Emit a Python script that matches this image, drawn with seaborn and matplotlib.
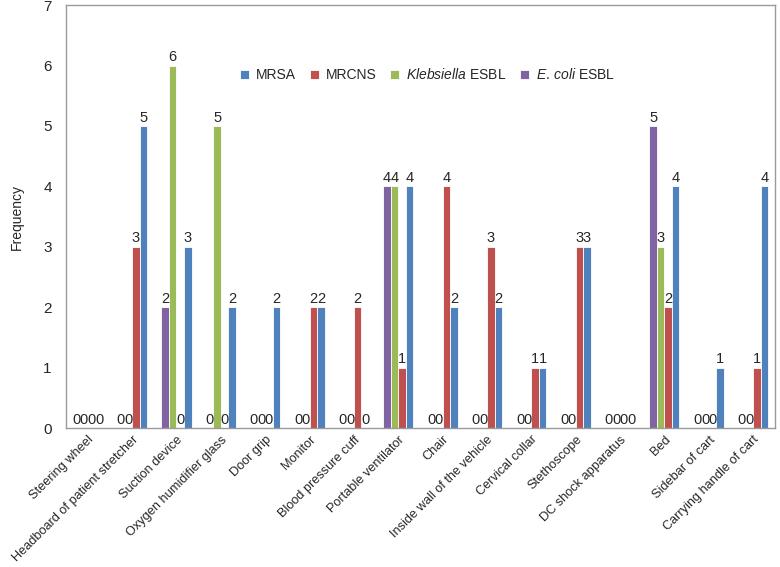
import matplotlib
matplotlib.use('Agg')
import matplotlib.pyplot as plt
import pandas as pd
import seaborn as sns

SITES = ['Steering wheel', 'Headboard of patient stretcher', 'Suction device',
         'Oxygen humidifier glass', 'Door grip', 'Monitor', 'Blood pressure cuff',
         'Portable ventilator', 'Chair', 'Inside wall of the vehicle', 'Cervical collar',
         'Stethoscope', 'DC shock apparatus', 'Bed', 'Sidebar of cart',
         'Carrying handle of cart']

MRSA = [0, 5, 3, 2, 2, 2, 0, 4, 2, 2, 1, 3, 0, 4, 1, 4]
MRCNS = [0, 3, 0, 0, 0, 2, 2, 1, 4, 3, 1, 3, 0, 2, 0, 1]
KLEBSIELLA = [0, 0, 6, 5, 0, 0, 0, 4, 0, 0, 0, 0, 0, 3, 0, 0]
ECOLI = [0, 0, 2, 0, 0, 0, 0, 4, 0, 0, 0, 0, 0, 5, 0, 0]

SERIES = {'MRSA': MRSA, 'MRCNS': MRCNS, 'Klebsiella ESBL': KLEBSIELLA, 'E. coli ESBL': ECOLI}
COLORS = {'MRSA': '#4F81BD', 'MRCNS': '#C0504D', 'Klebsiella ESBL': '#9BBB59',
          'E. coli ESBL': '#8064A2'}
LEGEND_LABELS = {'MRSA': 'MRSA', 'MRCNS': 'MRCNS',
                 'Klebsiella ESBL': r'$\mathit{Klebsiella}$ ESBL',
                 'E. coli ESBL': r'$\mathit{E.\,coli}$ ESBL'}

# bars inside a group run opposite to the legend order
DRAW_ORDER = ['E. coli ESBL', 'Klebsiella ESBL', 'MRCNS', 'MRSA']
LEGEND_ORDER = ['MRSA', 'MRCNS', 'Klebsiella ESBL', 'E. coli ESBL']

rows = []
for name, vals in SERIES.items():
    for site, v in zip(SITES, vals):
        rows.append({'site': site, 'organism': name, 'count': v})
df = pd.DataFrame(rows)

sns.set_style('white')
plt.rcParams['font.family'] = ['Liberation Sans', 'DejaVu Sans']
plt.rcParams['mathtext.fontset'] = 'custom'
plt.rcParams['mathtext.rm'] = 'Liberation Sans'
plt.rcParams['mathtext.it'] = 'Liberation Sans:italic'

fig = plt.figure(figsize=(7.8, 5.67), dpi=100)
ax = fig.add_axes([0.084, 0.245, 0.91, 0.746])

sns.barplot(data=df, x='site', y='count', hue='organism', order=SITES,
            hue_order=DRAW_ORDER, palette=COLORS, width=0.68, ax=ax,
            saturation=1, edgecolor='white', linewidth=0.6)

for cont in ax.containers:
    ax.bar_label(cont, fmt='%d', fontsize=10.5, padding=1)

ax.set_ylim(0, 7)
ax.set_yticks(range(0, 8))
ax.set_xlim(-0.5, len(SITES) - 0.5)
ax.set_xlabel('')
ax.set_ylabel('Frequency', fontsize=10, labelpad=14)
ax.tick_params(axis='y', labelsize=11, length=0, pad=10)
ax.tick_params(axis='x', labelsize=9.2, length=0, pad=4)
plt.setp(ax.get_xticklabels(), rotation=45, ha='right', rotation_mode='anchor')

for sp in ax.spines.values():
    sp.set_color('#9a9a9a')
    sp.set_linewidth(1.0)

handles, labels = ax.get_legend_handles_labels()
lookup = dict(zip(labels, handles))
ax.legend([lookup[k] for k in LEGEND_ORDER], [LEGEND_LABELS[k] for k in LEGEND_ORDER],
          loc='center', bbox_to_anchor=(0.51, 0.835), ncol=4, frameon=False,
          fontsize=10, handlelength=0.65, handleheight=0.65, handletextpad=0.5,
          columnspacing=1.0)

fig.savefig('out.png', dpi=100)
